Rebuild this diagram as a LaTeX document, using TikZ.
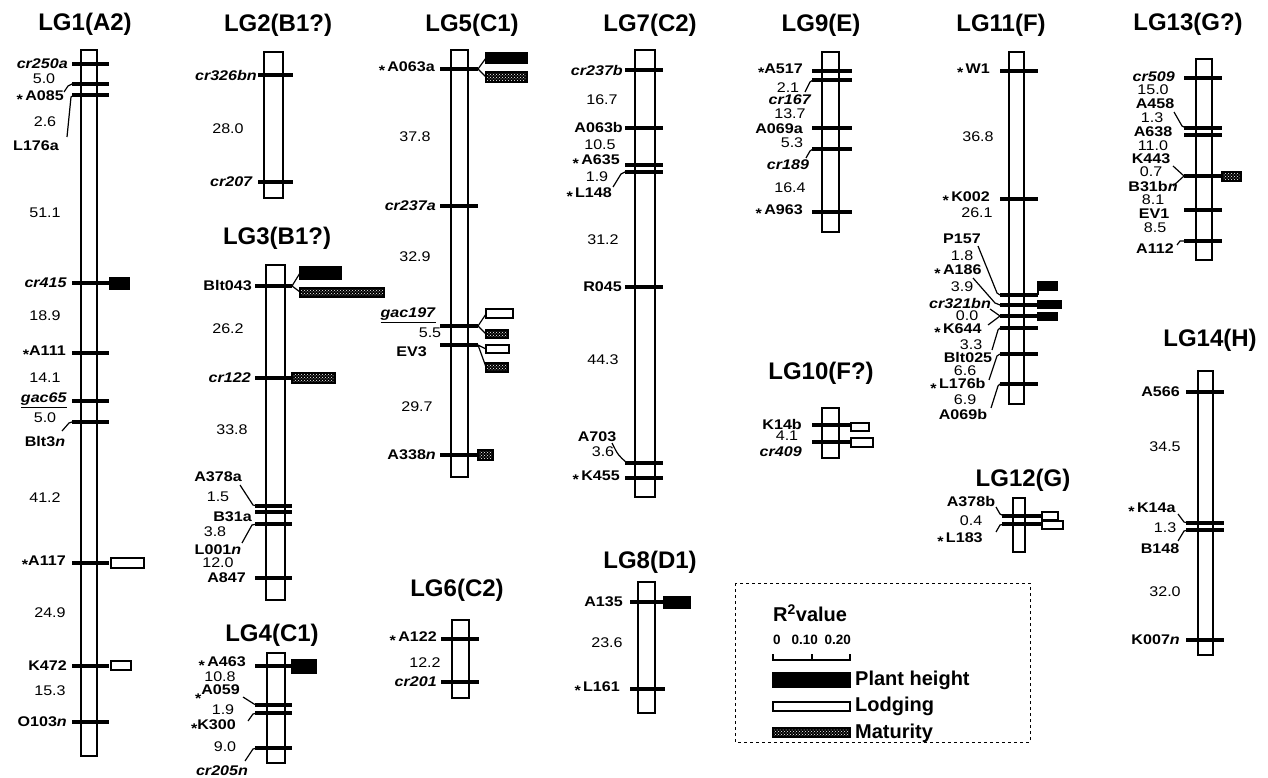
\documentclass[tikz,border=0pt]{standalone}
\usepackage{fontspec}
\setmainfont{Liberation Sans}
\newfontfamily\wide[FakeStretch=1.15]{Liberation Sans}
\usetikzlibrary{patterns}
\newcommand{\mstar}{\raisebox{-0.3em}{*}}
\tikzset{
  chrom/.style={draw, line width=1.6pt, fill=white},
  mtick/.style={line width=3.2pt},
  conn/.style={line width=1.2pt},
  mk/.style={font=\wide\bfseries\fontsize{14}{14}\selectfont, inner sep=0pt},
  dist/.style={font=\wide\fontsize{14}{14}\selectfont, inner sep=0pt},
  lgt/.style={font=\bfseries\fontsize{24}{24}\selectfont, inner sep=0pt},
  ph/.style={draw, fill=black, line width=1.2pt},
  lod/.style={draw, fill=white, line width=1.2pt},
  mat/.style={draw, line width=1.2pt, preaction={fill=black}, pattern=crosshatch dots, pattern color=white},
  leg/.style={font=\bfseries\fontsize{20}{20}\selectfont, inner sep=0pt, anchor=west}
}
\begin{document}
\begin{tikzpicture}[x=1pt,y=-1pt]
\useasboundingbox (0,0) rectangle (1268,778);
% LG1
\node[lgt] at (85,24) {LG1(A2)};
\draw[chrom] (81,50) rectangle (97,756);
\foreach \y in {64,84,95,283,353,401,422,563,666,722}
  \draw[mtick] (72,\y) -- (109,\y);
\node[mk,left] at (68,64) {\textit{cr250a}};
\node[dist] at (44,79) {5.0};
\node[mk,left] at (64,98) {\mstar\,A085};
\draw[conn] (64,92) -- (68,86) -- (72,84);
\node[dist] at (45,122) {2.6};
\node[mk] at (36,146) {L176a};
\draw[conn] (67,137) -- (71,97) -- (74,95);
\node[dist] at (45,213) {51.1};
\node[mk,left] at (67,283) {\textit{cr415}};
\draw[ph] (110,278) rectangle (129,289);
\node[dist] at (45,316) {18.9};
\node[mk,left] at (66,353) {\mstar A111};
\node[dist] at (45,378) {14.1};
\node[mk,left] at (67,400) {\underline{\textit{gac65}}};
\node[dist] at (45,418) {5.0};
\node[mk] at (45,442) {Blt3\textit{n}};
\draw[conn] (62,431) -- (69,423) -- (72,422);
\node[dist] at (45,498) {41.2};
\node[mk,left] at (66,563) {\mstar A117};
\draw[lod] (111,558) rectangle (144,568);
\node[dist] at (50,613) {24.9};
\node[mk,left] at (67,666) {K472};
\draw[lod] (111,661) rectangle (131,670);
\node[dist] at (50,691) {15.3};
\node[mk,left] at (67,722) {O103\textit{n}};
% LG2
\node[lgt] at (278,25) {LG2(B1?)};
\draw[chrom] (264,52) rectangle (283,198);
\foreach \y in {75,182}
  \draw[mtick] (258,\y) -- (293,\y);
\node[mk,left] at (257,75) {\textit{cr326bn}};
\node[dist] at (228,129) {28.0};
\node[mk,left] at (253,182) {\textit{cr207}};
% LG3
\node[lgt] at (277,238) {LG3(B1?)};
\draw[chrom] (266,265) rectangle (285,600);
\foreach \y in {286,378,506,512,524,578}
  \draw[mtick] (255,\y) -- (292,\y);
\node[mk,left] at (252,286) {Blt043};
\draw[conn] (292,286) -- (300,273) (292,286) -- (300,292);
\draw[ph] (300,267) rectangle (341,279);
\draw[mat] (300,288) rectangle (384,297);
\node[dist] at (228,329) {26.2};
\node[mk,left] at (251,378) {\textit{cr122}};
\draw[mat] (292,373) rectangle (335,383);
\node[dist] at (232,430) {33.8};
\node[mk] at (218,477) {A378a};
\draw[conn] (240,485) -- (253,505) -- (257,506);
\node[dist] at (218,497) {1.5};
\node[mk,left] at (252,517) {B31a};
\node[dist] at (215,532) {3.8};
\node[mk] at (218,550) {L001\textit{n}};
\draw[conn] (242,543) -- (252,525) -- (257,524);
\node[dist] at (218,563) {12.0};
\node[mk,left] at (246,578) {A847};
% LG4
\node[lgt] at (272,635) {LG4(C1)};
\draw[chrom] (267,653) rectangle (285,763);
\foreach \y in {666,705,713,748}
  \draw[mtick] (255,\y) -- (292,\y);
\node[mk,left] at (246,664) {\mstar\,A463};
\draw[ph] (292,660) rectangle (316,673);
\node[dist] at (220,677) {10.8};
\node[mk,left] at (240,694) {\raisebox{-0.3em}{\mstar}A059};
\draw[conn] (243,697) -- (254,704) -- (258,705);
\node[dist] at (223,710) {1.9};
\node[mk,left] at (236,727) {\mstar K300};
\draw[conn] (248,721) -- (253,714) -- (257,713);
\node[dist] at (225,747) {9.0};
\node[mk] at (222,771) {\textit{cr205n}};
\draw[conn] (245,761) -- (253,749) -- (257,748);
% LG5
\node[lgt] at (472,25) {LG5(C1)};
\draw[chrom] (451,50) rectangle (468,477);
\foreach \y in {69,206,326,345,455}
  \draw[mtick] (440,\y) -- (478,\y);
\node[mk,left] at (435,69) {\mstar\,A063a};
\draw[conn] (478,69) -- (486,58) (478,69) -- (486,77);
\draw[ph] (486,53) rectangle (527,63);
\draw[mat] (486,72) rectangle (527,82);
\node[dist] at (415,137) {37.8};
\node[mk,left] at (436,206) {\textit{cr237a}};
\node[dist] at (415,257) {32.9};
\node[mk,left] at (436,315) {\underline{\textit{gac197}}};
\draw[conn] (478,326) -- (486,314) (478,326) -- (486,334);
\draw[lod] (486,309) rectangle (513,318);
\draw[mat] (486,330) rectangle (508,338);
\node[dist] at (430,333) {5.5};
\node[mk,left] at (427,352) {EV3};
\draw[conn] (478,345) -- (486,349) (478,345) -- (486,367);
\draw[lod] (486,345) rectangle (509,353);
\draw[mat] (486,363) rectangle (508,372);
\node[dist] at (417,407) {29.7};
\node[mk,left] at (436,455) {A338\textit{n}};
\draw[mat] (478,450) rectangle (493,460);
% LG6
\node[lgt] at (457,590) {LG6(C2)};
\draw[chrom] (452,620) rectangle (469,698);
\foreach \y in {639,682}
  \draw[mtick] (441,\y) -- (479,\y);
\node[mk,left] at (437,639) {\mstar\,A122};
\node[dist] at (425,663) {12.2};
\node[mk,left] at (437,682) {\textit{cr201}};
% LG7
\node[lgt] at (650,25) {LG7(C2)};
\draw[chrom] (635,50) rectangle (655,497);
\foreach \y in {70,128,165,172,287,463,478}
  \draw[mtick] (625,\y) -- (663,\y);
\node[mk,left] at (623,70) {\textit{cr237b}};
\node[dist] at (602,100) {16.7};
\node[mk,left] at (623,128) {A063b};
\node[dist] at (600,145) {10.5};
\node[mk,left] at (620,162) {\mstar\,A635};
\node[dist] at (597,177) {1.9};
\node[mk,left] at (612,195) {\mstar\,L148};
\draw[conn] (613,187) -- (621,174) -- (625,172);
\node[dist] at (603,240) {31.2};
\node[mk,left] at (622,287) {R045};
\node[dist] at (603,360) {44.3};
\node[mk] at (597,437) {A703};
\draw[conn] (612,443) .. controls (618,455) .. (627,463);
\node[dist] at (603,452) {3.6};
\node[mk,left] at (620,478) {\mstar\,K455};
% LG8
\node[lgt] at (650,562) {LG8(D1)};
\draw[chrom] (638,582) rectangle (655,713);
\foreach \y in {602,689}
  \draw[mtick] (630,\y) -- (665,\y);
\node[mk,left] at (623,602) {A135};
\draw[ph] (664,597) rectangle (690,608);
\node[dist] at (607,643) {23.6};
\node[mk,left] at (620,689) {\mstar\,L161};
% LG9
\node[lgt] at (821,25) {LG9(E)};
\draw[chrom] (822,52) rectangle (839,232);
\foreach \y in {71,80,128,149,212}
  \draw[mtick] (812,\y) -- (852,\y);
\node[mk,left] at (803,71) {\mstar A517};
\node[dist] at (788,88) {2.1};
\node[mk] at (790,100) {\textit{cr167}};
\draw[conn] (805,92) -- (810,82) -- (813,80);
\node[dist] at (790,114) {13.7};
\node[mk,left] at (803,129) {A069a};
\node[dist] at (792,143) {5.3};
\node[mk] at (788,165) {\textit{cr189}};
\draw[conn] (806,158) -- (810,151) -- (813,149);
\node[dist] at (790,188) {16.4};
\node[mk,left] at (803,212) {\mstar\,A963};
% LG10
\node[lgt] at (821,373) {LG10(F?)};
\draw[chrom] (822,408) rectangle (839,458);
\foreach \y in {425,442}
  \draw[mtick] (812,\y) -- (851,\y);
\node[mk,left] at (802,424) {K14b};
\draw[lod] (851,423) rectangle (869,431);
\node[dist] at (787,436) {4.1};
\node[mk,left] at (802,452) {\textit{cr409}};
\draw[lod] (851,438) rectangle (873,447);
% LG11
\node[lgt] at (1001,25) {LG11(F)};
\draw[chrom] (1009,52) rectangle (1024,404);
\foreach \y in {71,199,295,305,316,328,354,384}
  \draw[mtick] (1000,\y) -- (1038,\y);
\node[mk,left] at (990,71) {\mstar\,W1};
\node[dist] at (978,137) {36.8};
\node[mk,left] at (990,199) {\mstar\,K002};
\node[dist] at (977,213) {26.1};
\node[mk] at (962,239) {P157};
\draw[conn] (978,246) -- (997,293) -- (1000,295);
\node[dist] at (962,256) {1.8};
\node[mk] at (958,272) {\mstar\,A186};
\draw[conn] (973,278) -- (995,303) -- (1000,305);
\node[dist] at (962,287) {3.9};
\node[mk] at (960,303) {\textit{cr321bn}};
\draw[conn] (990,309) -- (1000,316);
\node[dist] at (967,316) {0.0};
\node[mk] at (958,331) {\mstar\,K644};
\draw[conn] (988,325) -- (1000,316);
\node[dist] at (971,345) {3.3};
\node[mk] at (968,357) {Blt025};
\draw[conn] (992,350) -- (998,330) -- (1000,328);
\node[dist] at (965,371) {6.6};
\node[mk] at (958,386) {\mstar\,L176b};
\draw[conn] (989,380) -- (997,356) -- (1000,354);
\node[dist] at (965,400) {6.9};
\node[mk] at (963,414) {A069b};
\draw[conn] (991,408) -- (998,386) -- (1000,384);
\draw[conn] (1038,295) -- (1038,290);
\draw[ph] (1038,282) rectangle (1057,290);
\draw[ph] (1038,301) rectangle (1061,308);
\draw[ph] (1038,313) rectangle (1057,320);
% LG12
\node[lgt] at (1023,480) {LG12(G)};
\draw[chrom] (1013,498) rectangle (1025,552);
\foreach \y in {516,524}
  \draw[mtick] (1002,\y) -- (1042,\y);
\node[mk] at (971,502) {A378b};
\draw[conn] (996,507) -- (1000,514) -- (1004,516);
\node[dist] at (971,521) {0.4};
\node[mk] at (960,540) {\mstar\,L183};
\draw[conn] (996,532) -- (1000,525) -- (1004,524);
\draw[lod] (1042,512) rectangle (1058,520);
\draw[lod] (1042,521) rectangle (1063,529);
% LG13
\node[lgt] at (1188,24) {LG13(G?)};
\draw[chrom] (1196,59) rectangle (1212,260);
\foreach \y in {78,128,135,176,210,241}
  \draw[mtick] (1184,\y) -- (1222,\y);
\node[mk,left] at (1175,77) {\textit{cr509}};
\node[dist] at (1153,90) {15.0};
\node[mk] at (1155,104) {A458};
\draw[conn] (1174,112) -- (1182,126) -- (1186,128);
\node[dist] at (1152,118) {1.3};
\node[mk] at (1153,132) {A638};
\node[dist] at (1153,146) {11.0};
\node[mk] at (1151,159) {K443};
\draw[conn] (1173,166) -- (1184,176) -- (1173,186);
\node[dist] at (1151,172) {0.7};
\node[mk] at (1153,187) {B31b\textit{n}};
\draw[mat] (1222,172) rectangle (1241,181);
\node[dist] at (1153,200) {8.1};
\node[mk] at (1154,214) {EV1};
\node[dist] at (1155,228) {8.5};
\node[mk] at (1155,249) {A112};
\draw[conn] (1177,245) -- (1180,241) -- (1184,241);
% LG14
\node[lgt] at (1210,340) {LG14(H)};
\draw[chrom] (1198,371) rectangle (1213,655);
\foreach \y in {392,523,530,640}
  \draw[mtick] (1186,\y) -- (1224,\y);
\node[mk,left] at (1180,392) {A566};
\node[dist] at (1165,447) {34.5};
\node[mk] at (1152,510) {\mstar\,K14a};
\draw[conn] (1178,514) -- (1184,522) -- (1188,523);
\node[dist] at (1165,528) {1.3};
\node[mk] at (1160,549) {B148};
\draw[conn] (1178,541) -- (1184,531) -- (1188,530);
\node[dist] at (1165,592) {32.0};
\node[mk,left] at (1180,640) {K007\textit{n}};
% legend
\draw[dashed, line width=0.8pt] (735,583) rectangle (1030,742);
\node[leg] at (773,613) {R\textsuperscript{2}value};
\node[mk, font=\bfseries\fontsize{13.5}{13.5}\selectfont] at (812,640) {0\hspace{0.8em}0.10\hspace{0.5em}0.20};
\draw[line width=1.4pt] (773,654) -- (773,660) -- (850,660) -- (850,654) (812,654) -- (812,660);
\draw[ph] (773,673) rectangle (850,687);
\node[leg] at (855,680) {Plant height};
\draw[lod] (773,702) rectangle (850,711);
\node[leg] at (855,706) {Lodging};
\draw[mat] (773,728) rectangle (850,737);
\node[leg] at (855,733) {Maturity};
\end{tikzpicture}
\end{document}
